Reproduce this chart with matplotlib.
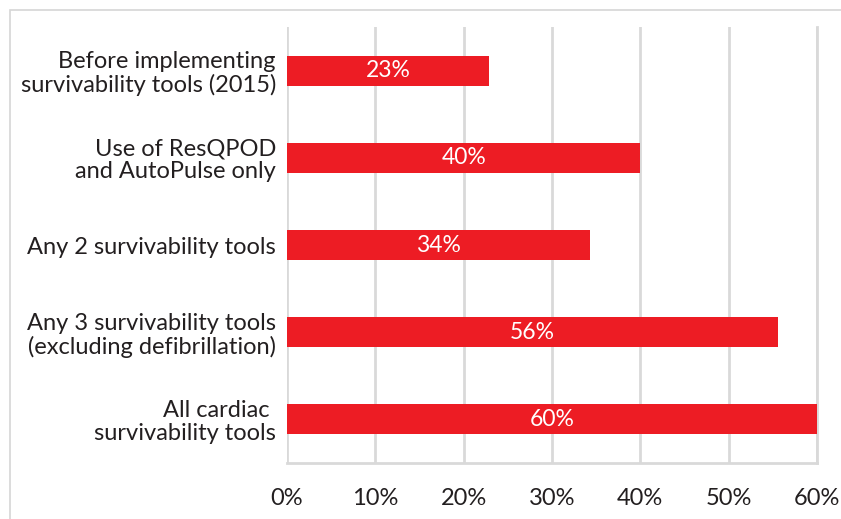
import matplotlib.pyplot as plt
from matplotlib.patches import Rectangle

categories = [
    "Before implementing\nsurvivability tools (2015)",
    "Use of ResQPOD\nand AutoPulse only",
    "Any 2 survivability tools",
    "Any 3 survivability tools\n(excluding defibrillation)",
    "All cardiac \nsurvivability tools",
]
values = [22.9, 40.0, 34.3, 55.6, 60.0]
bar_labels = ["23%", "40%", "34%", "56%", "60%"]
xticks = [0, 10, 20, 30, 40, 50, 60]

RED = "#ed1c24"
GRID = "#d9d9d9"

plt.rcParams["font.family"] = ["Lato", "DejaVu Sans"]

fig = plt.figure(figsize=(8.41, 5.19), dpi=100)
ax = fig.add_axes([287 / 841, 56 / 519, 530 / 841, 436 / 519])

# light frame around the chart (only top and left edges show)
fig.patches.append(Rectangle((10 / 841, -0.1), 1.2, 0.1 + 509 / 519,
                             transform=fig.transFigure, fill=False,
                             edgecolor="#d6d6d6", linewidth=1.2))

y = list(range(len(categories)))
ax.barh(y, values, height=0.345, color=RED, zorder=3)
for yi, v, lab in zip(y, values, bar_labels):
    ax.text(v / 2, yi, lab, color="white", ha="center", va="center",
            fontsize=16.5, zorder=4)

ax.set_xlim(0, 60)
ax.set_ylim(len(categories) - 0.5, -0.5)
ax.set_xticks(xticks)
ax.set_xticklabels([f"{t}%" for t in xticks])
ax.set_yticks(y)
ax.set_yticklabels(categories, linespacing=1.1)

ax.xaxis.grid(True, color=GRID, linewidth=2, zorder=0)
ax.set_axisbelow(True)
for s in ["top", "left"]:
    ax.spines[s].set_visible(False)
for s in ["bottom", "right"]:
    ax.spines[s].set_color(GRID)
    ax.spines[s].set_linewidth(2)

ax.tick_params(axis="both", length=0, labelsize=17, labelcolor="#231f20")
ax.tick_params(axis="x", pad=18)
ax.tick_params(axis="y", pad=8)

fig.savefig("out.png", dpi=100)
